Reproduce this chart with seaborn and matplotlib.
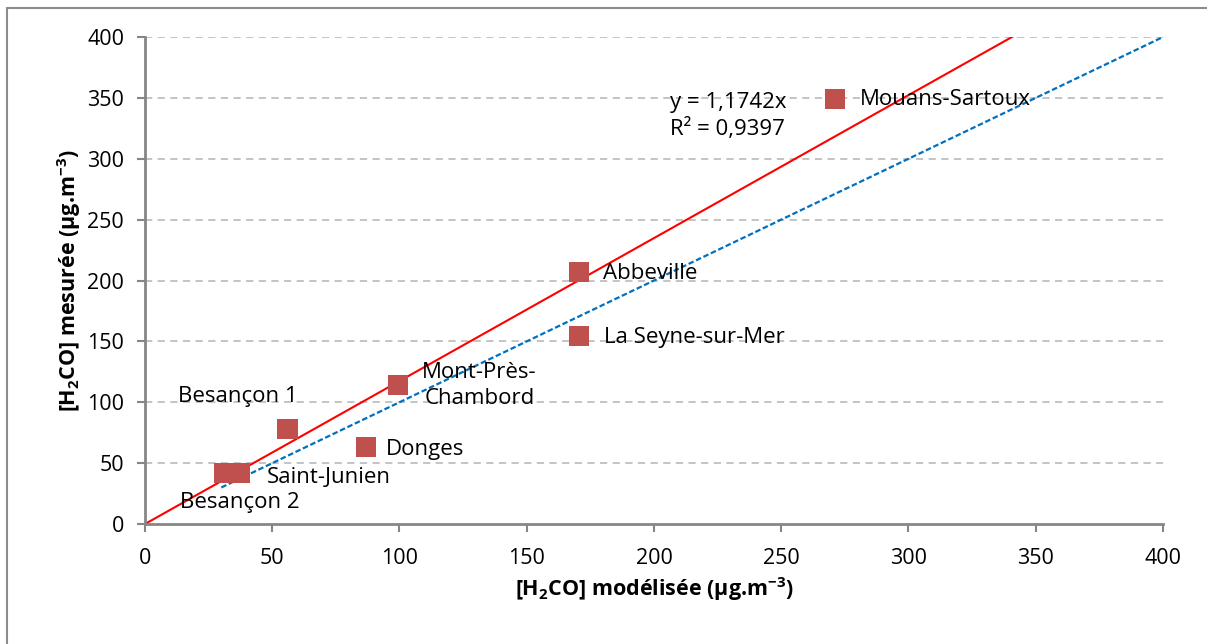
import numpy as np
import pandas as pd
import matplotlib
matplotlib.use("Agg")
import matplotlib.pyplot as plt
from matplotlib.lines import Line2D
import seaborn as sns

# sites and concentrations (µg.m-3)
sites = ["Mouans-Sartoux", "Abbeville", "La Seyne-sur-Mer", "Mont-Près-\nChambord",
         "Besançon 1", "Donges", "Saint-Junien", "Besançon 2"]
modelisee = [271, 170.5, 170.5, 99.5, 56, 87, 37.5, 31]
mesuree = [349, 207, 154.5, 114, 78, 63, 42, 42]

slope = 1.1742
r2 = 0.9397
fit_x = [0, 400]
ref_x = [30, 400]

# label anchors (data coords) and alignment
label_x = [281, 180, 180.5, 131.5, 13, 94.5, 48, 13.8]
label_y = [348.5, 206, 153.5, 114, 105, 61.5, 38.5, 18]
label_ha = ["left", "left", "left", "center", "left", "left", "left", "left"]

df = pd.DataFrame({"site": sites, "mod": modelisee, "mes": mesuree})

sns.set_theme(style="white")
FONT = "Open Sans"
plt.rcParams["font.family"] = [FONT, "DejaVu Sans"]
plt.rcParams["mathtext.fontset"] = "custom"
plt.rcParams["mathtext.rm"] = FONT
plt.rcParams["mathtext.bf"] = FONT + ":bold"
FS = 16
TFS = 15.5

fig = plt.figure(figsize=(12.07, 6.44), dpi=100)
ax = fig.add_axes([0.1201, 0.1863, 0.8434, 0.7562])

ax.set_xlim(0, 400)
ax.set_ylim(0, 400)
ax.set_xticks(range(0, 401, 50))
ax.set_yticks(range(0, 401, 50))

for yv in range(50, 401, 50):
    ax.axhline(yv, color="#BFBFBF", lw=1.3, ls=(0, (4, 3)), zorder=0)

sns.lineplot(x=fit_x, y=[slope * v for v in fit_x], color="#FF0000", lw=1.5, ax=ax, zorder=2)
sns.lineplot(x=ref_x, y=ref_x, color="#0070C0", lw=1.6, ls=(0, (2.5, 1.2)), ax=ax, zorder=2)
sns.scatterplot(data=df, x="mod", y="mes", marker="s", s=210, color="#C0504D",
                edgecolor="none", ax=ax, zorder=3, clip_on=False)

for t, x, y, ha in zip(sites, label_x, label_y, label_ha):
    ax.text(x, y, t, ha=ha, va="center", fontsize=FS, color="black",
            multialignment="center", linespacing=1.3)

ax.text(229, 335.5, "y = " + f"{slope:.4f}".replace(".", ",") + "x\n" +
        "R² = " + f"{r2:.4f}".replace(".", ","),
        ha="center", va="center", fontsize=FS, color="black", linespacing=1.3)

for s in ["top", "right"]:
    ax.spines[s].set_visible(False)
for s in ["left", "bottom"]:
    ax.spines[s].set_color("#868686")
    ax.spines[s].set_linewidth(2)

ax.tick_params(axis="both", direction="out", length=6, width=1.5, color="#868686",
               labelsize=TFS, labelcolor="black")
ax.tick_params(axis="x", pad=11)
ax.tick_params(axis="y", pad=9)
ax.xaxis.set_ticks_position("bottom")
ax.yaxis.set_ticks_position("left")

ax.set_xlabel(r"[H$\mathbf{_2}$CO] modélisée (µg.m$\mathbf{^{-3}}$)", fontsize=TFS,
              fontweight="bold", color="black", labelpad=5)
ax.set_ylabel(r"[H$\mathbf{_2}$CO] mesurée (µg.m$\mathbf{^{-3}}$)", fontsize=TFS,
              fontweight="bold", color="black", labelpad=3)

# outer chart frame (top and left edges visible)
fig.add_artist(Line2D([7 / 1207, 1], [1 - 8 / 644, 1 - 8 / 644], color="#8C8C8C", lw=1.5))
fig.add_artist(Line2D([7 / 1207, 7 / 1207], [0, 1 - 8 / 644], color="#8C8C8C", lw=1.5))

fig.savefig("out.png", dpi=100)
